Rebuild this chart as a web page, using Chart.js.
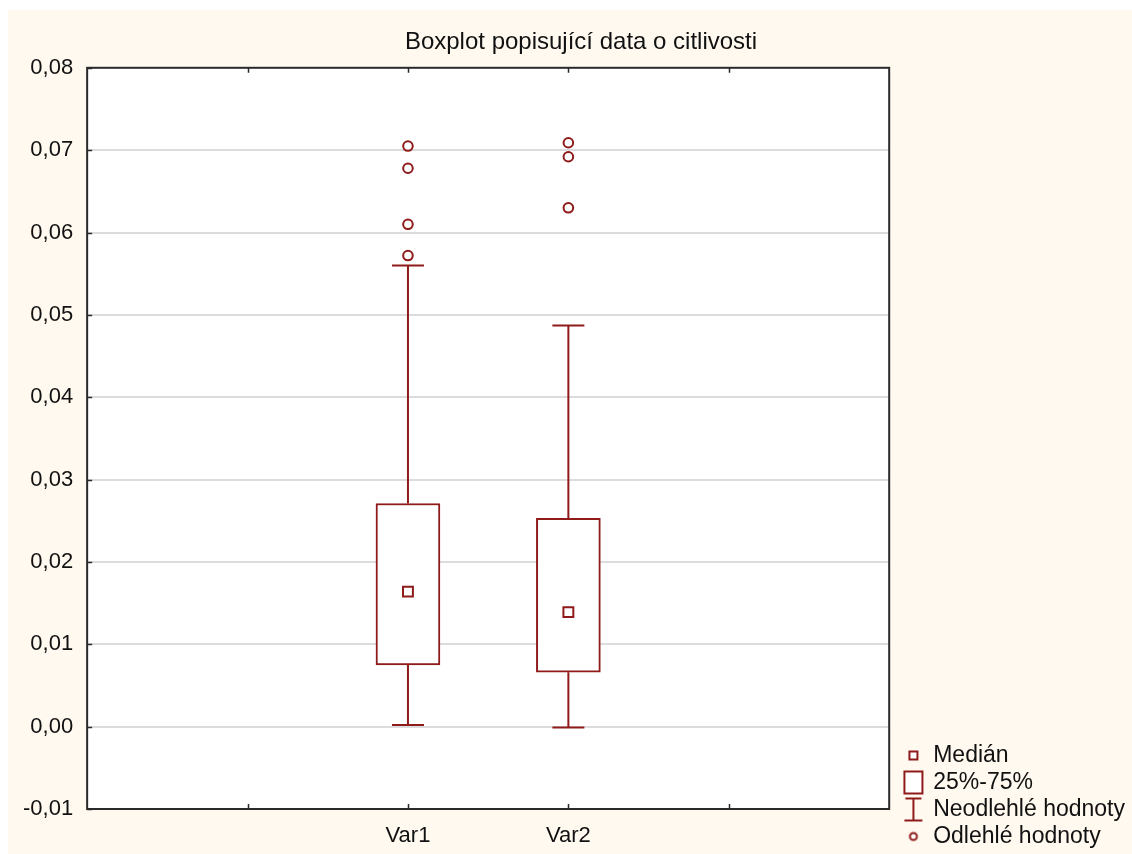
<!DOCTYPE html>
<html>
<head>
<meta charset="utf-8">
<title>Boxplot popisující data o citlivosti</title>
<script src="https://cdn.jsdelivr.net/npm/chart.js@4/dist/chart.umd.min.js"></script>
<style>
  html, body { margin:0; padding:0; background:#fff; }
  #wrap { position:absolute; left:8px; top:10px; width:1124px; height:844px; background:#fff9ef; }
  #wrap canvas { display:block; }
</style>
</head>
<body>
<div id="wrap"><canvas id="chart" width="1124" height="844"></canvas></div>
<script>
// values
const categories = ["Var1", "Var2"];
const whiskerLow  = [0.0002, -0.0001];
const quartile1   = [0.0075, 0.0066];
const medians     = [0.0164, 0.0139];
const quartile3   = [0.0271, 0.0253];
const whiskerHigh = [0.0560, 0.0487];
const outliers    = [
  [0.0572, 0.0610, 0.0678, 0.0705],
  [0.0630, 0.0692, 0.0709]
];
const yTicks = [-0.01, 0, 0.01, 0.02, 0.03, 0.04, 0.05, 0.06, 0.07, 0.08];

const RED = "#8f1a1a";
const FONT = "Arial, 'Liberation Sans', sans-serif";
const xOf = i => i + 2; // categories sit on 2 and 3 of a 0..5 axis

const boxData = categories.map((c, i) => ({x: xOf(i), y: [quartile1[i], quartile3[i]]}));
const medianData = categories.map((c, i) => ({x: xOf(i), y: medians[i]}));
const whiskerData = [];
categories.forEach((c, i) => {
  whiskerData.push({x: xOf(i), y: whiskerLow[i]}, {x: xOf(i), y: quartile1[i]}, {x: xOf(i), y: null});
  whiskerData.push({x: xOf(i), y: quartile3[i]}, {x: xOf(i), y: whiskerHigh[i]}, {x: xOf(i), y: null});
});
const capData = [];
categories.forEach((c, i) => {
  capData.push({x: xOf(i), y: whiskerLow[i]}, {x: xOf(i), y: whiskerHigh[i]});
});
const outlierData = [];
outliers.forEach((list, i) => list.forEach(v => outlierData.push({x: xOf(i), y: v})));

// legend icons
function icon(draw){
  const c = document.createElement("canvas");
  c.width = 48; c.height = 28;
  const g = c.getContext("2d");
  g.strokeStyle = RED; g.fillStyle = "#fff"; g.lineWidth = 2;
  draw(g, 30, 14);
  return c;
}
const iconMedian = icon((g, cx, cy) => { g.fillRect(cx-4, cy-4, 8, 8); g.strokeRect(cx-4, cy-4, 8, 8); });
const iconBox = icon((g, cx, cy) => { g.fillRect(cx-9, cy-11, 18, 22); g.strokeRect(cx-9, cy-11, 18, 22); });
const iconWhisker = icon((g, cx, cy) => {
  g.beginPath();
  g.moveTo(cx-8, cy-11); g.lineTo(cx+8, cy-11);
  g.moveTo(cx, cy-11); g.lineTo(cx, cy+11);
  g.moveTo(cx-9, cy+11); g.lineTo(cx+9, cy+11);
  g.stroke();
});
const iconOutlier = icon((g, cx, cy) => { g.beginPath(); g.arc(cx, cy, 3.5, 0, Math.PI*2); g.fill(); g.stroke(); });

const frame = {
  id: "frame",
  afterLayout(chart){
    // the original title sits a little right of the canvas centre
    if (chart.titleBlock) { chart.titleBlock.left += 9; chart.titleBlock.right += 9; }
  },
  beforeDraw(chart){
    const {ctx, chartArea: a} = chart;
    ctx.save();
    ctx.fillStyle = "#fff";
    ctx.fillRect(a.left, a.top, a.right - a.left, a.bottom - a.top);
    ctx.restore();
  },
  afterDraw(chart){
    const {ctx, chartArea: a, scales} = chart;
    ctx.save();
    ctx.strokeStyle = "#2a2a2a";
    ctx.lineWidth = 2;
    ctx.strokeRect(a.left, a.top, a.right - a.left, a.bottom - a.top);
    ctx.lineWidth = 1.5;
    ctx.beginPath();
    scales.x.ticks.forEach(t => {
      if (t.value <= 0 || t.value >= 5) return;
      const px = Math.round(scales.x.getPixelForValue(t.value)) + 0.5;
      ctx.moveTo(px, a.bottom); ctx.lineTo(px, a.bottom - 5);
      ctx.moveTo(px, a.top); ctx.lineTo(px, a.top + 5);
    });
    scales.y.ticks.forEach(t => {
      const py = Math.round(scales.y.getPixelForValue(t.value)) + 0.5;
      ctx.moveTo(a.left, py); ctx.lineTo(a.left + 5, py);
    });
    ctx.stroke();
    ctx.restore();
  }
};

new Chart(document.getElementById("chart"), {
  type: "scatter",
  data: {
    datasets: [
      {
        type: "scatter", label: "Odlehlé hodnoty", data: outlierData, order: 0,
        pointStyle: "circle", pointRadius: 4.8, borderWidth: 2,
        borderColor: RED, backgroundColor: "#fff"
      },
      {
        type: "scatter", label: "Medián", data: medianData, order: 1,
        pointStyle: "rect", pointRadius: 7, borderWidth: 2,
        borderColor: RED, backgroundColor: "#fff"
      },
      {
        type: "bar", label: "25%-75%", data: boxData, order: 2,
        barThickness: 64, borderWidth: 2, borderSkipped: false,
        borderColor: RED, backgroundColor: "#fff"
      },
      {
        type: "scatter", label: "Neodlehlé hodnoty", data: whiskerData, order: 3,
        showLine: true, spanGaps: false, pointRadius: 0, borderWidth: 2,
        borderColor: RED, backgroundColor: RED
      },
      {
        type: "scatter", label: "caps", data: capData, order: 3,
        pointStyle: "line", pointRadius: 16, borderWidth: 2,
        borderColor: RED, backgroundColor: RED
      }
    ]
  },
  options: {
    responsive: false,
    animation: false,
    events: [],
    layout: { padding: { left: 1, right: -3, top: 0, bottom: 2 } },
    scales: {
      x: {
        type: "linear", min: 0, max: 5, offset: false,
        grid: { display: false, drawTicks: false },
        border: { display: false },
        afterFit: axis => { axis.height = 43; },
        ticks: {
          stepSize: 1, padding: 14, color: "#111",
          font: { family: FONT, size: 22 },
          callback: v => categories[v - 2] || ""
        }
      },
      y: {
        type: "linear", min: yTicks[0], max: yTicks[yTicks.length - 1], beginAtZero: false,
        afterBuildTicks: axis => { axis.ticks = yTicks.map(v => ({value: v})); },
        grid: {
          drawTicks: false, lineWidth: 2,
          color: ctx => (ctx.tick && (ctx.tick.value <= yTicks[0] || ctx.tick.value >= yTicks[yTicks.length - 1])) ? "rgba(0,0,0,0)" : "#dcdcdc"
        },
        border: { display: false },
        ticks: {
          padding: 14, color: "#111",
          font: { family: FONT, size: 22 },
          callback: v => v.toFixed(2).replace(".", ",")
        }
      }
    },
    plugins: {
      title: {
        display: true, text: "Boxplot popisující data o citlivosti",
        color: "#111", font: { family: FONT, size: 24, weight: "normal" },
        padding: { top: 18, bottom: 11 }
      },
      legend: {
        position: "right", align: "end",
        labels: {
          usePointStyle: true, pointStyleWidth: 28.5, boxHeight: 23, padding: 4,
          color: "#111", font: { family: FONT, size: 23 },
          generateLabels: () => [
            { text: "Medián", pointStyle: iconMedian, fontColor: "#111", lineWidth: 0 },
            { text: "25%-75%", pointStyle: iconBox, fontColor: "#111", lineWidth: 0 },
            { text: "Neodlehlé hodnoty", pointStyle: iconWhisker, fontColor: "#111", lineWidth: 0 },
            { text: "Odlehlé hodnoty", pointStyle: iconOutlier, fontColor: "#111", lineWidth: 0 }
          ]
        }
      },
      tooltip: { enabled: false }
    }
  },
  plugins: [frame]
});
</script>
</body>
</html>
